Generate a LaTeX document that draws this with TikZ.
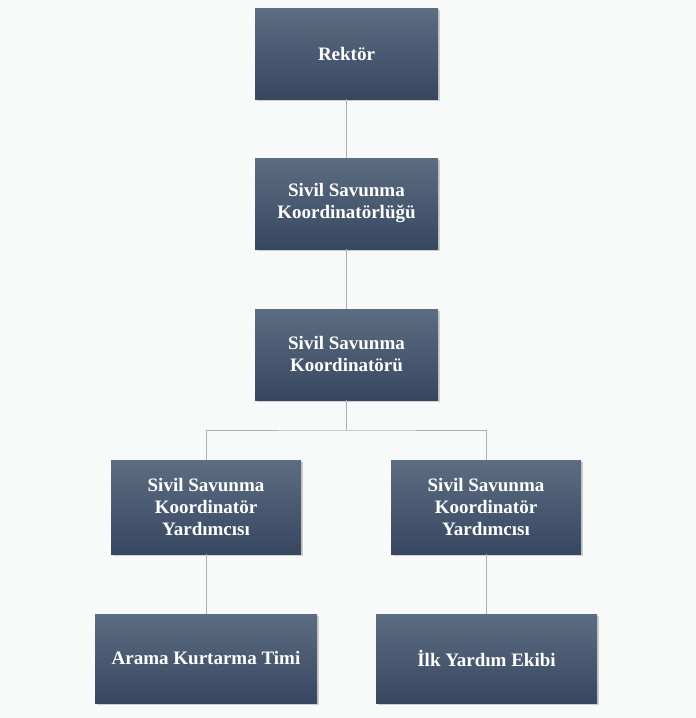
\documentclass[tikz,border=0pt]{standalone}
\usepackage{fontspec}
\setmainfont{Liberation Serif}
\usetikzlibrary{shadows}
\definecolor{bg}{HTML}{F8F9F9}
\definecolor{boxtop}{HTML}{5C6C82}
\definecolor{boxbot}{HTML}{374760}
\definecolor{linec}{HTML}{A8B0BC}
\begin{document}
\begin{tikzpicture}[x=1pt,y=-1pt,
  orgbox/.style={rectangle,top color=boxtop,bottom color=boxbot,draw=none,
    drop shadow={shadow xshift=1.5pt,shadow yshift=-1.5pt,opacity=0.35},
    text=white,font=\fontsize{19}{22}\selectfont\bfseries,align=center,inner sep=0pt},
  conn/.style={draw=linec,line width=0.6pt}]
\fill[bg] (0,0) rectangle (696,718);
\useasboundingbox (0,0) rectangle (696,718);
\node[orgbox,minimum width=183pt,minimum height=91pt] (r) at (346.5,53.5) {Rektör};
\node[orgbox,minimum width=183pt,minimum height=91pt] (k1) at (346.5,203.5) {Sivil Savunma\\Koordinatörlüğü};
\node[orgbox,minimum width=183pt,minimum height=91pt] (k2) at (346.5,354.5) {Sivil Savunma\\Koordinatörü};
\node[orgbox,minimum width=190pt,minimum height=94pt] (y1) at (206,507) {Sivil Savunma\\Koordinatör\\Yardımcısı};
\node[orgbox,minimum width=190pt,minimum height=94pt] (y2) at (486,507) {Sivil Savunma\\Koordinatör\\Yardımcısı};
\node[orgbox,minimum width=222pt,minimum height=89pt] (a) at (206,658.5) {Arama Kurtarma Timi};
\node[orgbox,minimum width=221pt,minimum height=89pt] (b) at (486.5,658.5) {İlk Yardım Ekibi};
\coordinate (j) at (346.5,430);
\draw[conn] (r.south) -- (k1.north);
\draw[conn] (k1.south) -- (k2.north);
\draw[conn] (k2.south) -- (j);
\draw[conn] (y1.north) |- (j) -| (y2.north);
\draw[conn] (y1.south) -- (y1.south |- a.north);
\draw[conn] (y2.south) -- (y2.south |- b.north);
\end{tikzpicture}
\end{document}
